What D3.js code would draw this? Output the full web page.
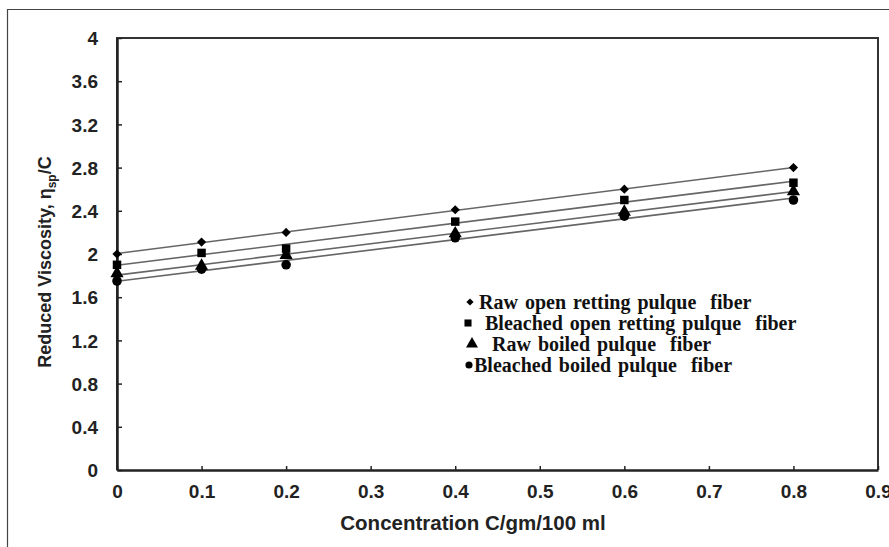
<!DOCTYPE html>
<html>
<head>
<meta charset="utf-8">
<script src="https://cdn.jsdelivr.net/npm/d3@7"></script>
<style>
  body { margin: 0; background: #fff; }
  svg { display: block; }
  .tick-label { font-family: "Liberation Sans", Arial, sans-serif; font-weight: bold; font-size: 19px; fill: #222; }
  .axis-title { font-family: "Liberation Sans", Arial, sans-serif; font-weight: bold; font-size: 18px; fill: #222; }
  .legend text { font-family: "Liberation Serif", "Times New Roman", serif; font-weight: bold; font-size: 20px; word-spacing: 2px; fill: #111; }
</style>
</head>
<body>
<svg id="chart" width="889" height="547"></svg>
<script>
// concentration C (gm/100 ml)
const concentration = [0, 0.1, 0.2, 0.4, 0.6, 0.8];

// reduced viscosity values
const rawOpenRetting = [2.0, 2.11, 2.2, 2.41, 2.6, 2.8];
const bleachedOpenRetting = [1.9, 2.01, 2.05, 2.3, 2.5, 2.66];
const rawBoiled = [1.82, 1.89, 1.99, 2.19, 2.39, 2.58];
const bleachedBoiled = [1.75, 1.86, 1.9, 2.15, 2.35, 2.5];

const seriesNames = [
    "Raw open retting pulque  fiber",
    "Bleached open retting pulque  fiber",
    "Raw boiled pulque  fiber",
    "Bleached boiled pulque  fiber"
];
const seriesValues = [rawOpenRetting, bleachedOpenRetting, rawBoiled, bleachedBoiled];

const xTicks = [0, 0.1, 0.2, 0.3, 0.4, 0.5, 0.6, 0.7, 0.8, 0.9];
const yTicks = [0, 0.4, 0.8, 1.2, 1.6, 2, 2.4, 2.8, 3.2, 3.6, 4];

const svg = d3.select("#chart");
const margin = {top: 38, right: 11, bottom: 77, left: 117};
const width = 889 - margin.left - margin.right;
const height = 547 - margin.top - margin.bottom;

// outer frame (only left and top edges fall inside the picture)
svg.append("path")
    .attr("d", "M7.5,547V9.5H889")
    .attr("fill", "none")
    .attr("stroke", "#444")
    .attr("stroke-width", 1.2);

const x = d3.scaleLinear().domain([0, 0.9]).range([0, width]);
const y = d3.scaleLinear().domain([0, 4]).range([height, 0]);

const g = svg.append("g").attr("transform", "translate(" + margin.left + "," + margin.top + ")");

// plot frame
g.append("path")
    .attr("d", "M0," + height + "V0H" + width + "V" + height)
    .attr("fill", "none")
    .attr("stroke", "#333")
    .attr("stroke-width", 2);

const xAxis = d3.axisBottom(x).tickValues(xTicks).tickSizeInner(-4).tickSizeOuter(0)
    .tickFormat((d) => d3.format("")(d));
const yAxis = d3.axisLeft(y).tickValues(yTicks).tickSizeInner(-5).tickSizeOuter(0)
    .tickFormat((d) => d3.format("")(d));

const gx = g.append("g")
    .attr("transform", "translate(0," + height + ")")
    .call(xAxis);
gx.select(".domain").attr("stroke", "#222").attr("stroke-width", 2.5);
gx.selectAll(".tick line").attr("stroke", "#222").attr("stroke-width", 1.5);
gx.selectAll(".tick text").attr("class", "tick-label").attr("y", 15).attr("dy", "0.71em");

const gy = g.append("g").call(yAxis);
gy.select(".domain").attr("stroke", "#222").attr("stroke-width", 2.5);
gy.selectAll(".tick line").attr("stroke", "#222").attr("stroke-width", 1.5);
gy.selectAll(".tick text").attr("class", "tick-label").attr("x", -19).attr("dy", "0.35em");

// axis titles
g.append("text")
    .attr("class", "axis-title")
    .attr("x", 356)
    .attr("y", height + 60)
    .attr("text-anchor", "middle")
    .style("font-size", "20.5px")
    .text("Concentration C/gm/100 ml");

const yt = svg.append("text")
    .attr("class", "axis-title")
    .attr("transform", "translate(51,262) rotate(-90)")
    .attr("text-anchor", "middle");
yt.append("tspan").text("Reduced Viscosity, \u03B7");
yt.append("tspan").attr("dy", 5).style("font-size", "12px").text("sp");
yt.append("tspan").attr("dy", -5).text("/C");

// least squares trendlines
function fit(xs, ys) {
    const mx = d3.mean(xs), my = d3.mean(ys);
    const b = d3.sum(xs, (v, i) => (v - mx) * (ys[i] - my)) / d3.sum(xs, (v) => (v - mx) * (v - mx));
    return {slope: b, intercept: my - b * mx};
}

// diamond drawn as a square turned 45 degrees
const symbols = [
    {sym: d3.symbol().type(d3.symbolSquare).size(42), rot: 45},
    {sym: d3.symbol().type(d3.symbolSquare).size(72), rot: 0},
    {sym: d3.symbol().type(d3.symbolTriangle).size(75), rot: 0},
    {sym: d3.symbol().type(d3.symbolCircle).size(72), rot: 0}
];

seriesValues.forEach((vals, s) => {
    const f = fit(concentration, vals);
    const ext = d3.extent(concentration);
    const line = d3.line().x((d) => x(d)).y((d) => y(f.intercept + f.slope * d));
    g.append("path")
        .datum(ext)
        .attr("d", line)
        .attr("fill", "none")
        .attr("stroke", "#666")
        .attr("stroke-width", 1.6);
});

seriesValues.forEach((vals, s) => {
    g.selectAll("path.s" + s)
        .data(concentration.map((c, i) => ({c: c, v: vals[i]})))
        .enter()
        .append("path")
        .attr("class", "s" + s)
        .attr("transform", (d) => "translate(" + x(d.c) + "," + y(d.v) + ") rotate(" + symbols[s].rot + ")")
        .attr("d", symbols[s].sym)
        .attr("fill", "#000");
});

// legend
const legendSymbols = [
    {sym: d3.symbol().type(d3.symbolSquare).size(26), rot: 45},
    {sym: d3.symbol().type(d3.symbolSquare).size(50), rot: 0},
    {sym: d3.symbol().type(d3.symbolTriangle).size(62), rot: 0},
    {sym: d3.symbol().type(d3.symbolCircle).size(40), rot: 0}
];
const legendMarkX = [470, 468, 472, 469];
const legendTextX = [479, 485, 492, 474];
const legendY = [302, 323, 344, 365];

const legend = svg.append("g").attr("class", "legend");
seriesNames.forEach((name, i) => {
    legend.append("path")
        .attr("transform", "translate(" + legendMarkX[i] + "," + legendY[i] + ") rotate(" + legendSymbols[i].rot + ")")
        .attr("d", legendSymbols[i].sym)
        .attr("fill", "#000");
    legend.append("text")
        .attr("x", legendTextX[i])
        .attr("y", legendY[i])
        .attr("dy", "0.35em")
        .style("white-space", "pre")
        .attr("xml:space", "preserve")
        .text(name);
});
</script>
</body>
</html>
